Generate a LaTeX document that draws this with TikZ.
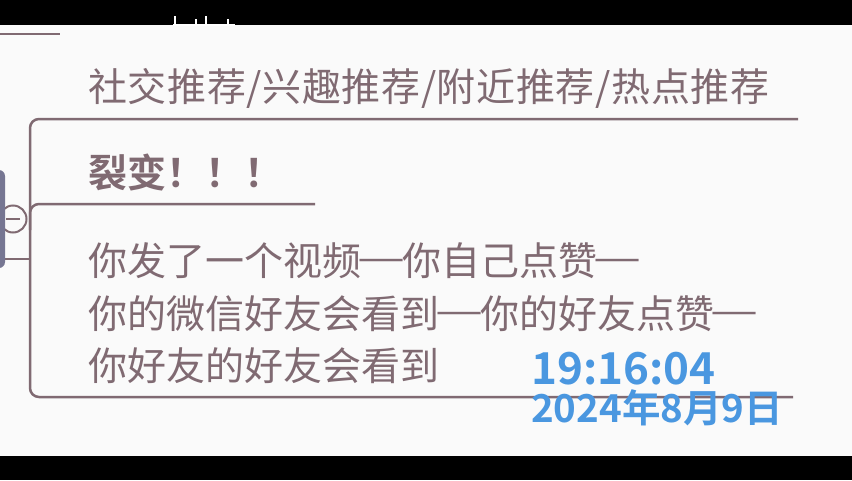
\documentclass[tikz,border=0pt]{standalone}
\usepackage{fontspec}
\newfontfamily\cjk[BoldFont={Noto Sans CJK SC Bold}]{Noto Sans CJK SC}
\definecolor{mauve}{RGB}{128,106,114}
\definecolor{stamp}{RGB}{74,151,224}
\definecolor{bgc}{RGB}{250,250,250}
\definecolor{knob}{RGB}{118,118,146}
\newcommand\dsh{\makebox[41pt]{\raisebox{4pt}{\scalebox{1.38}[1]{—}}}}
\begin{document}
\begin{tikzpicture}[x=1pt,y=-1pt,
  link/.style={draw=mauve, line width=2.5pt, rounded corners=9pt},
  txt/.style={text=mauve, inner sep=0pt, anchor=base west, font=\cjk\fontsize{39}{39}\selectfont},
  txtb/.style={txt, font=\cjk\bfseries\fontsize{39}{39}\selectfont},
  clock/.style={text=stamp, inner sep=0pt, anchor=base west, font=\cjk\bfseries\fontsize{44}{44}\selectfont},
  datec/.style={text=stamp, inner sep=0pt, anchor=base west, font=\cjk\bfseries\fontsize{38.5}{38.5}\selectfont}]
\useasboundingbox (0,0) rectangle (852,480);
\fill[bgc] (0,0) rectangle (852,480);
\fill[black] (0,0) rectangle (852,25);
\fill[black] (0,456) rectangle (852,480);
% clipped fragments
\draw[mauve, line width=2pt] (0,34) -- (60,34);
\draw[white, line width=1.2pt] (173,25) -- (235,25) (175,25) -- (175,16) (196,25) -- (196,19) (206,25) -- (206,16) (228,25) -- (228,19);
% connectors
\coordinate (topend) at (798,119);
\coordinate (botend) at (793,397);
\coordinate (midend) at (315,204);
\coordinate (spine) at (30,259);
\draw[link] (topend) -- (30,119) -- (30,397) -- (botend);
\draw[link] (30,230) |- (midend);
% collapse knob and parent node
\draw[mauve, line width=2pt] (5,259) -- (spine);
\node[circle, draw=mauve, fill=bgc, line width=2pt, minimum size=27pt, inner sep=0pt] (knobc) at (13,219) {};
\draw[mauve, line width=2pt] (6,219) -- (20,219);
\fill[knob, rounded corners=6pt] (-40,170) rectangle (5,268);
% texts
\node[txt] (t1) at (88,101) {\addfontfeature{LetterSpace=1.6}社交推荐/兴趣推荐/附近推荐/热点推荐};
\node[txtb] (t2) at (88,187) {裂变！！！};
\node[txt] (l1) at (88,275) {你发了一个视频\dsh 你自己点赞\dsh};
\node[txt] (l2) at (88,328) {你的微信好友会看到\dsh 你的好友点赞\dsh};
\node[txt] (l3) at (88,380) {你好友的好友会看到};
\node[clock] (time) at (531,384) {19:16:04};
\node[datec] (date) at (531,422) {2024年8月9日};
\end{tikzpicture}
\end{document}
